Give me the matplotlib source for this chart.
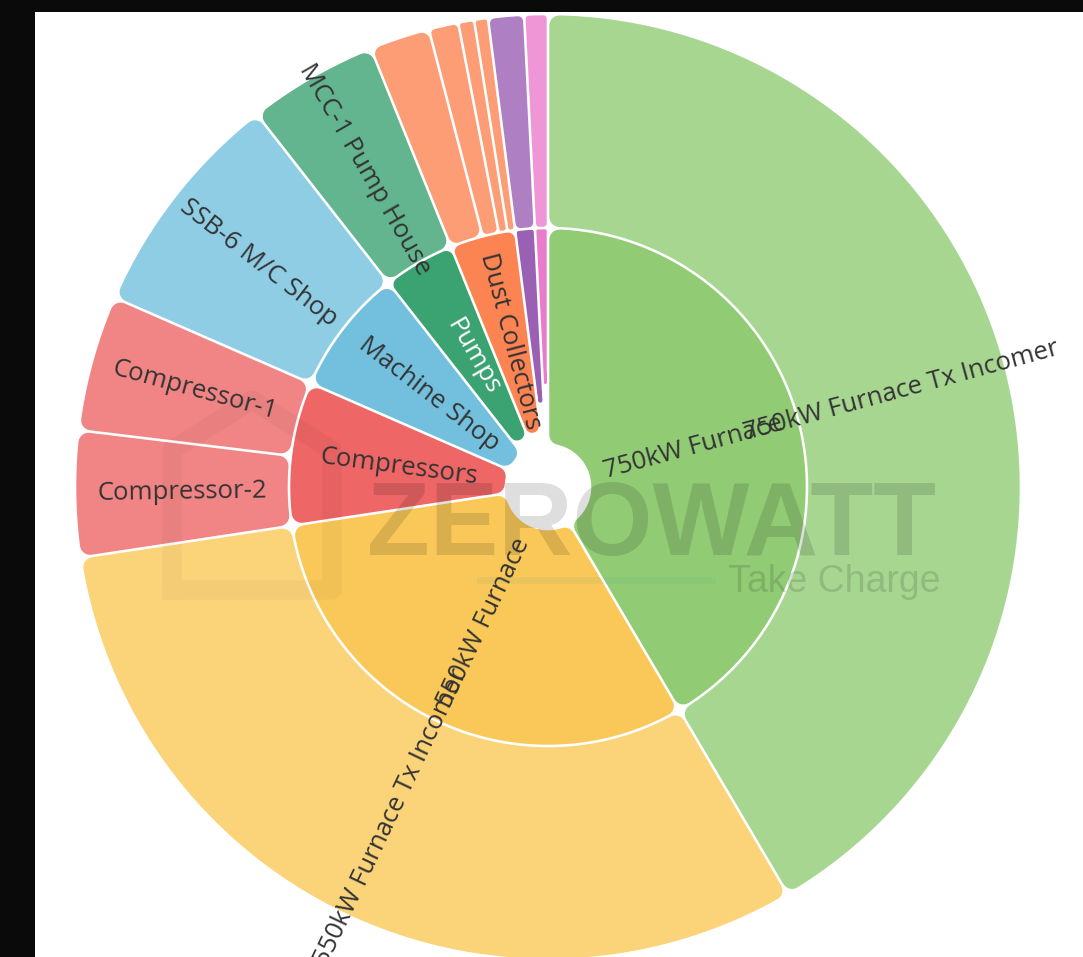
"""Sunburst of plant feeder loads: feeder groups inside, incomers / loads outside."""
import numpy as np
import matplotlib.pyplot as plt
from matplotlib.patches import Polygon, Rectangle
from matplotlib.colors import to_rgb

plt.rcParams['font.family'] = ['Open Sans', 'DejaVu Sans']

# inner ring: feeder groups
groups = ['750kW Furnace', '550kW Furnace', 'Compressors', 'Machine Shop',
          'Pumps', 'Dust Collectors', 'Aux-A', 'Aux-B']
group_colors = ['#91cc75', '#fac858', '#ee6666', '#73c0de',
                '#3ba272', '#fc8452', '#9a60b4', '#ea7ccc']
group_text = ['#333333', '#333333', '#333333', '#333333',
              '#ffffff', '#333333', '#333333', '#333333']

# outer ring: loads under each group
loads = [
    ['750kW Furnace Tx Incomer'],
    ['550kW Furnace Tx Incomer'],
    ['Compressor-2', 'Compressor-1'],
    ['SSB-6 M/C Shop'],
    ['MCC-1 Pump House'],
    ['DC-1', 'DC-2', 'DC-3', 'DC-4'],
    ['Aux-A1'],
    ['Aux-B1'],
]
load_values = [
    [149.5],
    [111.9],
    [15.5, 16.7],
    [28.4],
    [16.0],
    [7.4, 3.65, 1.95, 1.7],
    [4.4],
    [2.9],
]

W, H, DPI = 1083, 957, 100
CX, CY = 548, 487
R_HOLE, R_MID, R_OUT = 42, 259, 473
GAP = 1.3
CORNER = 10
MIN_LABEL_DEG = 10

fig = plt.figure(figsize=(W / DPI, H / DPI), dpi=DPI, facecolor='#0a0a0a')
ax = fig.add_axes([0, 0, 1, 1])
ax.set_xlim(0, W)
ax.set_ylim(H, 0)
ax.axis('off')
ax.add_patch(Rectangle((35, 12), W - 35, H - 12, facecolor='white',
                       edgecolor='none', zorder=0))


def lighten(color, k=0.2):
    r, g, b = to_rgb(color)
    return (r + (1 - r) * k, g + (1 - g) * k, b + (1 - b) * k)


def sector(a1, a2, ri, ro, color):
    """Annular sector with rounded corners and a white gap around it."""
    h = (a2 - a1) / 2
    w = (ri + ro) / 2 * np.sin(min(h, np.pi / 2))
    rc = min(CORNER, 0.35 * w)
    d = GAP + rc
    rb = ro - d
    ra = ri + d
    if h < np.pi / 2:
        ra = max(ra, d / np.sin(h) * 1.001)
    if ra >= rb:
        return
    db, da = np.arcsin(d / rb), np.arcsin(d / ra)
    t_out = np.linspace(a1 + db, a2 - db, 150)
    t_in = np.linspace(a2 - da, a1 + da, 60)
    xs = np.r_[rb * np.cos(t_out), ra * np.cos(t_in)]
    ys = np.r_[rb * np.sin(t_out), ra * np.sin(t_in)]
    pts = np.c_[CX + xs, CY - ys]
    ax.add_patch(Polygon(pts, closed=True, facecolor=color, edgecolor=color,
                         lw=2 * rc * 72 / DPI, joinstyle='round', zorder=2))


def label(a1, a2, ri, ro, text, color):
    am = (a1 + a2) / 2
    r = (ri + ro) / 2
    rot = (np.degrees(am) + 180) % 360 - 180
    if rot > 90:
        rot -= 180
    elif rot < -90:
        rot += 180
    ax.text(CX + r * np.cos(am), CY - r * np.sin(am), text, rotation=rot,
            rotation_mode='anchor', ha='center', va='center', fontsize=18.5,
            color=color, zorder=6)


total = sum(sum(v) for v in load_values)
scale = 360.0 / total
labels = []
start = 0.0  # clockwise from 12 o'clock
for gi, name in enumerate(groups):
    g_span = sum(load_values[gi]) * scale
    a1 = np.radians(90 - (start + g_span))
    a2 = np.radians(90 - start)
    sector(a1, a2, R_HOLE, R_MID, group_colors[gi])
    if g_span >= MIN_LABEL_DEG:
        labels.append((a1, a2, R_HOLE, R_MID, name, group_text[gi]))
    s = start
    for child, val in zip(loads[gi], load_values[gi]):
        span = val * scale
        c1 = np.radians(90 - (s + span))
        c2 = np.radians(90 - s)
        sector(c1, c2, R_MID, R_OUT, lighten(group_colors[gi]))
        if span >= MIN_LABEL_DEG:
            labels.append((c1, c2, R_MID, R_OUT, child, '#333333'))
        s += span
    start += g_span

# watermark
ax.plot([172, 172, 252, 332, 332, 172], [590, 450, 400, 450, 590, 590],
        color='black', alpha=0.03, lw=14, solid_joinstyle='round', zorder=4)
ax.plot([480, 712], [580, 580], color='#2aa198', alpha=0.08, lw=5, zorder=4)
ax.text(651, 555, 'ZEROWATT', fontsize=74, fontweight='bold',
        family='Liberation Sans', color='black', alpha=0.13,
        ha='center', va='baseline', zorder=4)
ax.text(940, 592, 'Take Charge', fontsize=27, family='Liberation Sans',
        color='black', alpha=0.13, ha='right', va='baseline', zorder=4)

for a1, a2, ri, ro, text, color in labels:
    label(a1, a2, ri, ro, text, color)

fig.savefig('out.png', dpi=DPI, facecolor=fig.get_facecolor())
